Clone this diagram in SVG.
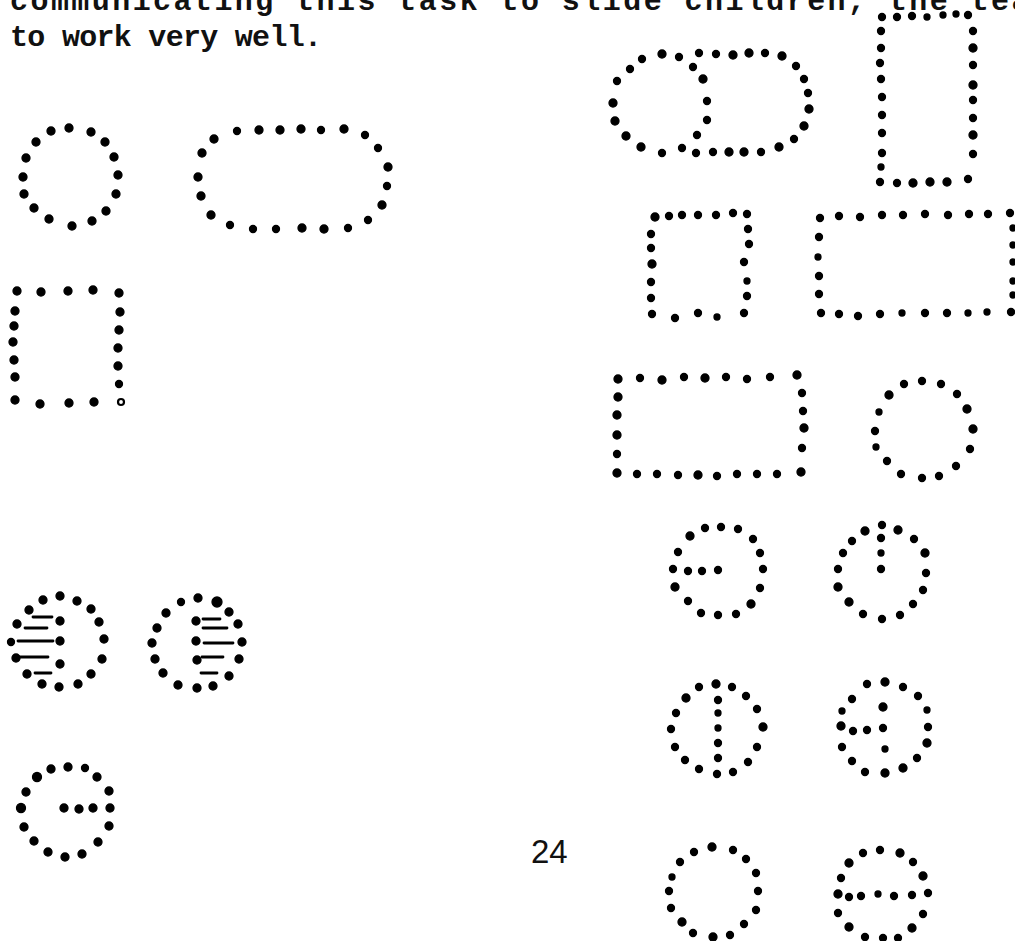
<svg xmlns="http://www.w3.org/2000/svg" width="1015" height="941" viewBox="0 0 1015 941">
<style>
.t{font-family:"Liberation Mono","DejaVu Sans Mono",monospace;font-weight:bold;font-size:30px;fill:#111}
.n{font-family:"Liberation Sans",Arial,sans-serif;font-size:33px;fill:#111}
circle{fill:#000;stroke:#000;stroke-width:1.3}
line{stroke:#000;stroke-width:2.8;stroke-linecap:round}
</style>
<rect width="1015" height="941" fill="#fff" stroke="none"/>
<text class="t" x="10" y="10" textLength="1040" lengthAdjust="spacing">communicating this task to slide children, the teac</text>
<text class="t" x="10" y="46" textLength="312" lengthAdjust="spacing">to work very well.</text>
<text class="n" x="531" y="863">24</text>
<g id="circle1">
<circle cx="69" cy="128" r="4"/><circle cx="91" cy="132" r="4"/><circle cx="105" cy="142" r="4"/><circle cx="114" cy="157" r="4"/><circle cx="118" cy="175" r="4"/><circle cx="116" cy="194" r="4"/><circle cx="106" cy="211" r="4"/><circle cx="92" cy="221" r="4"/><circle cx="72" cy="226" r="4"/><circle cx="49" cy="219" r="4"/><circle cx="34" cy="208" r="4"/><circle cx="24" cy="194" r="4"/><circle cx="23" cy="177" r="4"/><circle cx="26" cy="158" r="4"/><circle cx="36" cy="142" r="4"/><circle cx="51" cy="131" r="4"/>
</g>
<g id="stadium">
<circle cx="214" cy="139" r="4"/><circle cx="237" cy="131" r="3.5"/><circle cx="259" cy="130" r="4"/><circle cx="280" cy="130" r="4"/><circle cx="301" cy="129" r="4"/><circle cx="321" cy="130" r="3.5"/><circle cx="344" cy="129" r="4"/><circle cx="365" cy="135" r="3.5"/><circle cx="378" cy="148" r="3.5"/><circle cx="388" cy="167" r="4"/><circle cx="387" cy="186" r="3.5"/><circle cx="382" cy="205" r="4"/><circle cx="368" cy="220" r="3.5"/><circle cx="348" cy="228" r="3.5"/><circle cx="324" cy="229" r="4"/><circle cx="302" cy="228" r="4"/><circle cx="276" cy="229" r="3.5"/><circle cx="253" cy="229" r="3.5"/><circle cx="230" cy="225" r="3.5"/><circle cx="211" cy="215" r="4"/><circle cx="201" cy="196" r="4"/><circle cx="198" cy="177" r="4"/><circle cx="202" cy="153" r="4"/>
</g>
<g id="rect1">
<circle cx="17" cy="291" r="4"/><circle cx="41" cy="292" r="4"/><circle cx="68" cy="291" r="4"/><circle cx="93" cy="290" r="4"/><circle cx="119" cy="293" r="4"/>
<circle cx="15" cy="311" r="4"/><circle cx="14" cy="326" r="4"/><circle cx="13" cy="342" r="4"/><circle cx="14" cy="360" r="4"/><circle cx="15" cy="377" r="4"/><circle cx="15" cy="400" r="4"/>
<circle cx="40" cy="404" r="4"/><circle cx="69" cy="403" r="4"/><circle cx="94" cy="402" r="4"/><circle cx="121" cy="402" r="3" style="fill:#fff;stroke:#000;stroke-width:2.2"/>
<circle cx="120" cy="312" r="4"/><circle cx="119" cy="330" r="4"/><circle cx="118" cy="348" r="4"/><circle cx="118" cy="366" r="4"/><circle cx="119" cy="384" r="3.5"/>
</g>
<g id="overlap">
<circle cx="662" cy="54" r="4"/><circle cx="679" cy="57" r="3.5"/><circle cx="642" cy="59" r="3.5"/><circle cx="630" cy="69" r="3.5"/><circle cx="617" cy="81" r="3.5"/><circle cx="613" cy="103" r="4"/><circle cx="615" cy="121" r="4"/><circle cx="626" cy="136" r="4"/><circle cx="641" cy="147" r="4"/><circle cx="662" cy="153" r="3.5"/><circle cx="682" cy="148" r="3.5"/>
<circle cx="693" cy="67" r="3.5"/><circle cx="703" cy="79" r="4"/><circle cx="707" cy="101" r="3.5"/><circle cx="707" cy="120" r="3.5"/><circle cx="697" cy="135" r="3.5"/>
<circle cx="699" cy="53" r="3.5"/><circle cx="716" cy="54" r="3.5"/><circle cx="733" cy="55" r="4"/><circle cx="749" cy="53" r="4"/><circle cx="765" cy="53" r="3.5"/><circle cx="782" cy="56" r="4"/><circle cx="796" cy="66" r="3.5"/><circle cx="804" cy="79" r="3.5"/><circle cx="808" cy="93" r="3.5"/><circle cx="809" cy="109" r="4"/><circle cx="804" cy="126" r="4"/><circle cx="794" cy="139" r="3.5"/><circle cx="779" cy="147" r="4"/><circle cx="761" cy="152" r="3.5"/><circle cx="744" cy="152" r="4"/><circle cx="729" cy="152" r="4"/><circle cx="713" cy="152" r="3.5"/><circle cx="696" cy="153" r="3.5"/>
</g>
<g id="tallrect">
<circle cx="882" cy="17" r="3.5"/><circle cx="897" cy="17" r="3.5"/><circle cx="912" cy="16" r="3.5"/><circle cx="927" cy="17" r="3"/><circle cx="943" cy="15" r="3"/><circle cx="956" cy="14" r="3"/><circle cx="968" cy="15" r="3.5"/>
<circle cx="881" cy="31" r="3.5"/><circle cx="881" cy="48" r="3.5"/><circle cx="880" cy="63" r="3.5"/><circle cx="881" cy="79" r="3.5"/><circle cx="882" cy="97" r="3.5"/><circle cx="882" cy="115" r="3.5"/><circle cx="882" cy="133" r="3.5"/><circle cx="882" cy="153" r="3.5"/><circle cx="881" cy="167" r="3"/><circle cx="880" cy="182" r="3.5"/>
<circle cx="897" cy="183" r="3.5"/><circle cx="913" cy="183" r="4"/><circle cx="930" cy="182" r="4"/><circle cx="947" cy="182" r="4"/><circle cx="968" cy="179" r="3.5"/>
<circle cx="973" cy="31" r="3.5"/><circle cx="973" cy="48" r="4"/><circle cx="973" cy="65" r="3.5"/><circle cx="973" cy="85" r="4"/><circle cx="973" cy="100" r="3.5"/><circle cx="973" cy="118" r="3.5"/><circle cx="973" cy="135" r="4"/><circle cx="973" cy="154" r="3.5"/>
</g>
<g id="square">
<circle cx="655" cy="217" r="4"/><circle cx="669" cy="216" r="3.5"/><circle cx="682" cy="215" r="3.5"/><circle cx="698" cy="215" r="3.5"/><circle cx="716" cy="215" r="3.5"/><circle cx="733" cy="213" r="3.5"/><circle cx="747" cy="214" r="3.5"/>
<circle cx="651" cy="234" r="3.5"/><circle cx="651" cy="248" r="3.5"/><circle cx="652" cy="264" r="4"/><circle cx="651" cy="282" r="3.5"/><circle cx="651" cy="298" r="3.5"/><circle cx="652" cy="314" r="3.5"/>
<circle cx="675" cy="318" r="3.5"/><circle cx="698" cy="313" r="3.5"/><circle cx="717" cy="317" r="3"/><circle cx="744" cy="313" r="3.5"/>
<circle cx="748" cy="229" r="3.5"/><circle cx="749" cy="244" r="3.5"/><circle cx="744" cy="262" r="3.5"/><circle cx="747" cy="281" r="3"/><circle cx="747" cy="296" r="3.5"/>
</g>
<g id="widerect">
<circle cx="820" cy="218" r="3.5"/><circle cx="839" cy="216" r="3.5"/><circle cx="860" cy="217" r="3.5"/><circle cx="882" cy="215" r="3.5"/><circle cx="903" cy="215" r="3.5"/><circle cx="925" cy="214" r="3.5"/><circle cx="948" cy="215" r="3.5"/><circle cx="969" cy="214" r="3.5"/><circle cx="988" cy="214" r="3.5"/><circle cx="1010" cy="213" r="3.5"/>
<circle cx="819" cy="237" r="3.5"/><circle cx="818" cy="257" r="3"/><circle cx="819" cy="276" r="3.5"/><circle cx="819" cy="294" r="3.5"/>
<circle cx="821" cy="313" r="3.5"/><circle cx="839" cy="314" r="3.5"/><circle cx="858" cy="316" r="3.5"/><circle cx="880" cy="314" r="3.5"/><circle cx="902" cy="313" r="3"/><circle cx="925" cy="313" r="3.5"/><circle cx="947" cy="313" r="3.5"/><circle cx="968" cy="313" r="3"/><circle cx="987" cy="312" r="3"/><circle cx="1011" cy="312" r="3.5"/>
<circle cx="1013" cy="228" r="3"/><circle cx="1013" cy="245" r="3"/><circle cx="1013" cy="262" r="3"/><circle cx="1013" cy="281" r="3"/><circle cx="1013" cy="295" r="3"/>
</g>
<g id="rect3">
<circle cx="618" cy="379" r="4"/><circle cx="640" cy="378" r="3.5"/><circle cx="662" cy="380" r="4"/><circle cx="684" cy="377" r="3.5"/><circle cx="705" cy="378" r="4"/><circle cx="726" cy="377" r="3.5"/><circle cx="747" cy="379" r="3.5"/><circle cx="770" cy="377" r="3.5"/><circle cx="797" cy="375" r="4"/>
<circle cx="618" cy="397" r="4"/><circle cx="617" cy="415" r="4"/><circle cx="617" cy="435" r="4"/><circle cx="617" cy="454" r="3.5"/>
<circle cx="617" cy="473" r="4"/><circle cx="637" cy="474" r="3.5"/><circle cx="657" cy="474" r="3.5"/><circle cx="678" cy="475" r="3.5"/><circle cx="698" cy="475" r="4"/><circle cx="717" cy="476" r="3.5"/><circle cx="737" cy="474" r="3.5"/><circle cx="757" cy="474" r="3.5"/><circle cx="777" cy="474" r="3.5"/><circle cx="801" cy="472" r="4"/>
<circle cx="802" cy="393" r="3.5"/><circle cx="803" cy="411" r="3.5"/><circle cx="804" cy="428" r="4"/><circle cx="802" cy="448" r="3.5"/>
</g>
<g id="circle2">
<circle cx="922" cy="381" r="3.5"/><circle cx="941" cy="384" r="3.5"/><circle cx="957" cy="394" r="3.5"/><circle cx="967" cy="409" r="4"/><circle cx="973" cy="429" r="4"/><circle cx="970" cy="449" r="3.5"/><circle cx="956" cy="466" r="3.5"/><circle cx="939" cy="476" r="3.5"/><circle cx="922" cy="478" r="3.5"/><circle cx="901" cy="474" r="3.5"/><circle cx="887" cy="461" r="3.5"/><circle cx="876" cy="447" r="3"/><circle cx="875" cy="431" r="3.5"/><circle cx="879" cy="412" r="3"/><circle cx="889" cy="395" r="4"/><circle cx="904" cy="384" r="3.5"/>
</g>
<g id="circle3">
<circle cx="721" cy="527" r="3.5"/><circle cx="738" cy="529" r="3.5"/><circle cx="753" cy="539" r="3.5"/><circle cx="760" cy="553" r="3.5"/><circle cx="763" cy="569" r="3.5"/><circle cx="760" cy="588" r="3.5"/><circle cx="751" cy="604" r="4"/><circle cx="736" cy="614" r="3.5"/><circle cx="718" cy="615" r="3.5"/><circle cx="701" cy="613" r="3.5"/><circle cx="688" cy="601" r="3.5"/><circle cx="675" cy="587" r="4"/><circle cx="673" cy="569" r="3.5"/><circle cx="678" cy="552" r="3.5"/><circle cx="690" cy="536" r="4"/><circle cx="705" cy="528" r="3.5"/>
<circle cx="688" cy="571" r="3.5"/><circle cx="702" cy="571" r="3.5"/><circle cx="718" cy="570" r="3.5"/>
</g>
<g id="circle4">
<circle cx="882" cy="525" r="3.5"/><circle cx="898" cy="530" r="4"/><circle cx="914" cy="539" r="3.5"/><circle cx="925" cy="553" r="4"/><circle cx="926" cy="573" r="3.5"/><circle cx="923" cy="590" r="3.5"/><circle cx="913" cy="604" r="3.5"/><circle cx="900" cy="615" r="3.5"/><circle cx="882" cy="619" r="3.5"/><circle cx="863" cy="614" r="3.5"/><circle cx="849" cy="602" r="4"/><circle cx="838" cy="587" r="4"/><circle cx="838" cy="569" r="3.5"/><circle cx="843" cy="553" r="3.5"/><circle cx="852" cy="541" r="3.5"/><circle cx="865" cy="531" r="4"/>
<circle cx="881" cy="538" r="3.5"/><circle cx="881" cy="553" r="3"/><circle cx="881" cy="569" r="3.5"/>
</g>
<g id="circle5">
<circle cx="716" cy="684" r="4"/><circle cx="732" cy="687" r="3.5"/><circle cx="746" cy="696" r="3.5"/><circle cx="757" cy="709" r="3.5"/><circle cx="763" cy="727" r="4"/><circle cx="757" cy="747" r="3.5"/><circle cx="748" cy="762" r="3.5"/><circle cx="733" cy="772" r="3.5"/><circle cx="717" cy="774" r="3.5"/><circle cx="699" cy="769" r="3.5"/><circle cx="685" cy="760" r="3.5"/><circle cx="675" cy="747" r="3.5"/><circle cx="671" cy="729" r="3.5"/><circle cx="676" cy="713" r="3.5"/><circle cx="686" cy="698" r="4"/><circle cx="699" cy="687" r="3.5"/>
<circle cx="718" cy="700" r="3.5"/><circle cx="718" cy="713" r="3"/><circle cx="718" cy="728" r="3"/><circle cx="718" cy="743" r="3.5"/><circle cx="718" cy="758" r="3.5"/>
</g>
<g id="circle6">
<circle cx="885" cy="682" r="4"/><circle cx="903" cy="687" r="3.5"/><circle cx="918" cy="696" r="3.5"/><circle cx="927" cy="710" r="3"/><circle cx="928" cy="727" r="3.5"/><circle cx="927" cy="743" r="4"/><circle cx="917" cy="758" r="3.5"/><circle cx="903" cy="768" r="4"/><circle cx="885" cy="773" r="4"/><circle cx="865" cy="772" r="3.5"/><circle cx="852" cy="761" r="3.5"/><circle cx="842" cy="747" r="3.5"/><circle cx="841" cy="726" r="4"/><circle cx="842" cy="711" r="3"/><circle cx="852" cy="699" r="3.5"/><circle cx="867" cy="684" r="3.5"/>
<circle cx="883" cy="707" r="4"/><circle cx="883" cy="728" r="3.5"/><circle cx="885" cy="749" r="3"/><circle cx="853" cy="731" r="3.5"/><circle cx="867" cy="730" r="3.5"/>
</g>
<g id="circle7">
<circle cx="712" cy="847" r="4"/><circle cx="733" cy="850" r="3.5"/><circle cx="746" cy="859" r="3.5"/><circle cx="756" cy="873" r="3.5"/><circle cx="758" cy="891" r="3.5"/><circle cx="756" cy="910" r="3.5"/><circle cx="744" cy="924" r="3.5"/><circle cx="730" cy="935" r="3.5"/><circle cx="713" cy="937" r="4"/><circle cx="693" cy="933" r="3.5"/><circle cx="682" cy="922" r="4"/><circle cx="671" cy="908" r="3.5"/><circle cx="669" cy="891" r="3.5"/><circle cx="672" cy="877" r="3"/><circle cx="680" cy="862" r="3.5"/><circle cx="694" cy="852" r="3.5"/>
</g>
<g id="circle8">
<circle cx="880" cy="850" r="3.5"/><circle cx="900" cy="853" r="4"/><circle cx="913" cy="862" r="3.5"/><circle cx="923" cy="876" r="4"/><circle cx="928" cy="893" r="3.5"/><circle cx="923" cy="914" r="3.5"/><circle cx="912" cy="928" r="4"/><circle cx="898" cy="938" r="3.5"/><circle cx="883" cy="938" r="3.5"/><circle cx="865" cy="937" r="3.5"/><circle cx="849" cy="927" r="4"/><circle cx="838" cy="913" r="3.5"/><circle cx="838" cy="894" r="4"/><circle cx="841" cy="878" r="3.5"/><circle cx="849" cy="863" r="4"/><circle cx="863" cy="853" r="3.5"/>
<circle cx="849" cy="897" r="3.5"/><circle cx="861" cy="896" r="3.5"/><circle cx="878" cy="894" r="3"/><circle cx="894" cy="896" r="3.5"/><circle cx="912" cy="895" r="3.5"/>
</g>
<g id="circle9">
<circle cx="60" cy="596" r="4"/><circle cx="77" cy="601" r="4"/><circle cx="91" cy="609" r="4"/><circle cx="99" cy="622" r="4"/><circle cx="104" cy="639" r="4"/><circle cx="102" cy="659" r="4"/><circle cx="91" cy="674" r="4"/><circle cx="78" cy="684" r="4"/><circle cx="59" cy="687" r="4"/><circle cx="42" cy="684" r="4"/><circle cx="27" cy="674" r="4"/><circle cx="16" cy="658" r="4"/><circle cx="11" cy="642" r="3.5"/><circle cx="17" cy="624" r="4"/><circle cx="29" cy="610" r="4"/><circle cx="43" cy="600" r="4"/>
<circle cx="60" cy="621" r="4"/><circle cx="60" cy="641" r="4"/><circle cx="60" cy="664" r="4"/>
<line x1="33" y1="617" x2="52" y2="617"/><line x1="25" y1="628" x2="47" y2="628"/><line x1="18" y1="641" x2="53" y2="641"/><line x1="17" y1="657" x2="48" y2="657"/><line x1="35" y1="673" x2="51" y2="673"/>
</g>
<g id="circle10">
<circle cx="181" cy="602" r="3.5"/><circle cx="198" cy="598" r="4"/><circle cx="217" cy="602" r="5"/><circle cx="229" cy="612" r="4"/><circle cx="238" cy="624" r="4"/><circle cx="242" cy="642" r="4"/><circle cx="239" cy="659" r="4"/><circle cx="229" cy="676" r="4"/><circle cx="213" cy="686" r="4"/><circle cx="197" cy="688" r="4"/><circle cx="178" cy="685" r="4"/><circle cx="163" cy="673" r="4"/><circle cx="155" cy="659" r="4"/><circle cx="152" cy="643" r="4"/><circle cx="157" cy="628" r="4"/><circle cx="166" cy="613" r="4"/>
<circle cx="196" cy="621" r="4"/><circle cx="196" cy="641" r="4"/><circle cx="197" cy="660" r="4"/>
<line x1="203" y1="619" x2="220" y2="619"/><line x1="203" y1="628" x2="227" y2="628"/><line x1="204" y1="643" x2="233" y2="643"/><line x1="202" y1="657" x2="223" y2="657"/><line x1="201" y1="673" x2="217" y2="673"/>
</g>
<g id="circle11">
<circle cx="51" cy="769" r="4"/><circle cx="68" cy="767" r="4"/><circle cx="85" cy="768" r="3.5"/><circle cx="97" cy="777" r="4"/><circle cx="109" cy="791" r="4"/><circle cx="110" cy="808" r="4"/><circle cx="109" cy="826" r="4"/><circle cx="98" cy="842" r="4"/><circle cx="82" cy="854" r="4"/><circle cx="65" cy="857" r="4"/><circle cx="48" cy="852" r="4"/><circle cx="34" cy="841" r="4"/><circle cx="24" cy="827" r="4"/><circle cx="21" cy="808" r="4.5"/><circle cx="26" cy="792" r="4"/><circle cx="37" cy="777" r="4.5"/>
<circle cx="64" cy="808" r="4"/><circle cx="79" cy="809" r="4"/><circle cx="93" cy="808" r="4"/>
</g>
</svg>
